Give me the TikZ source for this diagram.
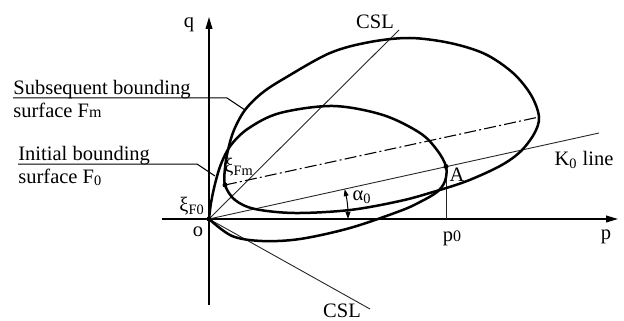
\documentclass[tikz,border=0pt]{standalone}
\usepackage{fontspec}
\setmainfont{Liberation Serif}
\usetikzlibrary{arrows.meta}
\tikzset{
    axisline/.style={line width=0.6pt, -{Triangle[length=6pt, width=3.4pt]}, color=black},
    thinline/.style={line width=0.45pt, color=black!85},
    surface/.style={line width=1.25pt, color=black},
    axisdash/.style={line width=0.55pt, color=black, dash pattern=on 6pt off 1.6pt on 1pt off 1.6pt},
    leader/.style={line width=0.5pt, color=black},
    anglearrow/.style={line width=0.5pt, {Triangle[length=3.5pt, width=2.4pt]}-{Triangle[length=3.5pt, width=2.4pt]}},
    marker/.style={circle, fill=black, inner sep=0pt, minimum size=2.5pt},
    labeltext/.style={inner sep=0pt, font=\fontsize{10.25}{12}\selectfont}
}

\begin{document}
\begin{tikzpicture}[x=0.5pt, y=-0.5pt]
    \useasboundingbox (0,0) rectangle (624,320);

    % points of the p-q plane
    \coordinate (O) at (209,219);
    \coordinate (pstart) at (162,219);
    \coordinate (ptip) at (618,219);
    \coordinate (qstart) at (209,305);
    \coordinate (qtip) at (209,17);
    \coordinate (csltop) at (399,30);
    \coordinate (cslbot) at (370,309);
    \coordinate (kend) at (599,133);
    \coordinate (A) at (446,166.5);
    \coordinate (p0foot) at (446,219);
    \coordinate (xiFm) at (225,185);
    \coordinate (fmtip) at (539,117);
    \coordinate (a0top) at (344.7,189.1);
    \coordinate (a0bot) at (348,219);

    % axes and lines
    \draw [axisline] (pstart) -- (ptip);
    \draw [axisline] (qstart) -- (qtip);
    \draw [thinline] (O) -- (csltop);
    \draw [thinline] (O) -- (cslbot);
    \draw [thinline] (O) -- (kend);
    \draw [thinline] (A) -- (p0foot);
    \draw [axisdash] (xiFm) -- (fmtip);
    \draw [anglearrow] (a0top) to[bend left=6] (a0bot);

    % initial bounding surface F0
    \draw [surface] plot[smooth, tension=0.55] coordinates {(O) (211,203) (215,184) (221,164) (231,145) (249,128) (280,113) (333,106) (383,115) (420,133) (437,150) (A) (445,181) (437,192) (420,202) (400,211) (350,228) (300,239) (262,241) (232,236) (O)};

    % subsequent bounding surface Fm
    \draw [surface] plot[smooth cycle, tension=0.55] coordinates {(xiFm) (225,168) (228,150) (234,130) (245,110) (262,93) (285,78) (330,53) (370,42) (410,38) (450,43) (485,54) (513,73) (531,95) (fmtip) (534,134) (520,152) (500,166) (467,181) (433,192) (400,201) (350,210) (295,213) (255,209) (235,200)};

    % dots
    \node [marker] (Odot) at (O) {};
    \node [marker] (xiFmdot) at (xiFm) {};
    \node [marker] (Adot) at (A) {};

    % labels
    \node [labeltext] (qlab) at (189,25) {q};
    \node [labeltext] (plab) at (606,237) {p};
    \node [labeltext] (olab) at (198,232) {o};
    \node [labeltext] (p0lab) at (452,238) {p{\footnotesize 0}};
    \node [labeltext] (csltoplab) at (375,22) {CSL};
    \node [labeltext] (cslbotlab) at (342,311) {CSL};
    \node [labeltext] (Alab) at (457,175) {A};
    \node [labeltext] (a0lab) at (362,197) {α\textsubscript{0}};
    \node [labeltext] (k0lab) at (584,160) {K\textsubscript{0} line};
    \node [labeltext, anchor=base west] (xiF0lab) at (179,211) {ξ\textsubscript{F0}};
    \node [labeltext, anchor=base west] (xiFmlab) at (224,172) {ξ\textsubscript{Fm}};

    % surface names with leaders
    \node [labeltext, anchor=base west] (fmtxta) at (13,95) {Subsequent bounding};
    \node [labeltext, anchor=base west] (fmtxtb) at (13,118) {surface F{\footnotesize m}};
    \node [labeltext, anchor=base west] (f0txta) at (18,160) {Initial bounding};
    \node [labeltext, anchor=base west] (f0txtb) at (18,183) {surface F\textsubscript{0}};

    \coordinate (fmlead) at (13,98);
    \coordinate (fmbend) at (227,98);
    \coordinate (fmhit) at (245,110);
    \coordinate (f0lead) at (18,164);
    \coordinate (f0bend) at (197,164);
    \coordinate (f0hit) at (215,176);
    \draw [leader] (fmlead) -- (fmbend) -- (fmhit);
    \draw [leader] (f0lead) -- (f0bend) -- (f0hit);
\end{tikzpicture}
\end{document}
